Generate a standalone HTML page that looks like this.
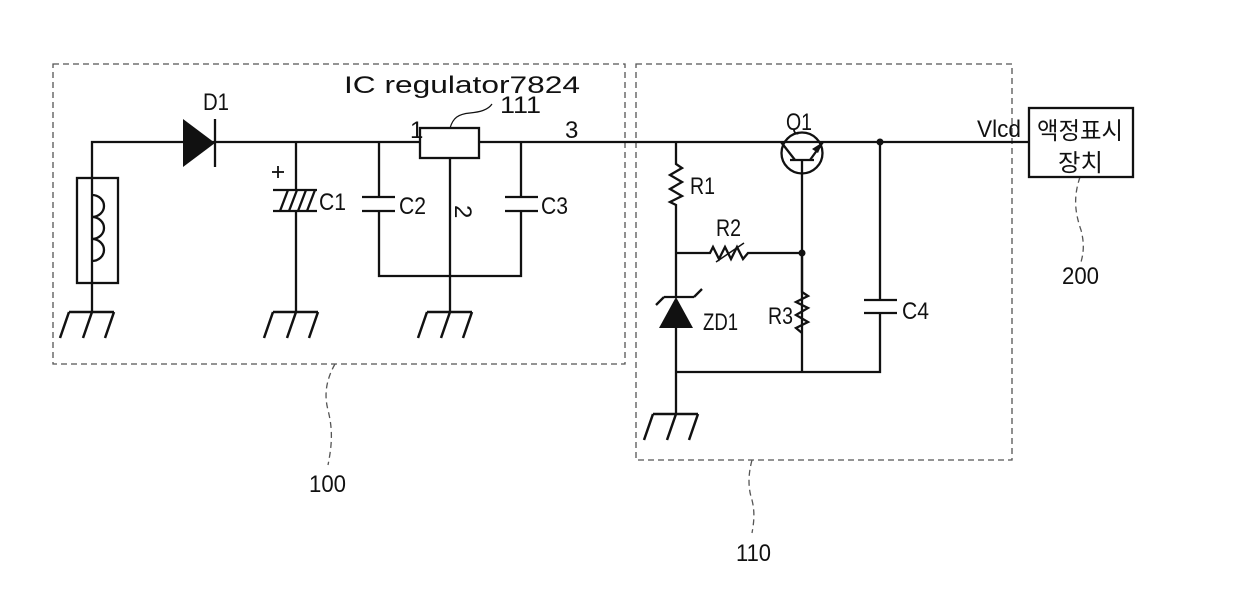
<!DOCTYPE html>
<html><head><meta charset="utf-8"><style>
html,body{margin:0;padding:0;background:#fff;}
svg{display:block;}
text{font-family:"Liberation Sans","Noto Sans CJK KR",sans-serif;fill:#111;}
</style></head><body>
<svg width="1240" height="590" viewBox="0 0 1240 590" xmlns="http://www.w3.org/2000/svg">
<defs>
<g id="gnd" stroke="#111" stroke-width="2.5" fill="none">
<line x1="-23" y1="0" x2="22" y2="0"/>
<line x1="-23" y1="0" x2="-32" y2="26"/>
<line x1="0" y1="0" x2="-9" y2="26"/>
<line x1="22" y1="0" x2="13" y2="26"/>
</g>
</defs>
<g stroke="#555" stroke-width="1.3" fill="none" stroke-dasharray="6,4">
<rect x="53" y="64" width="572" height="300"/>
<rect x="636" y="64" width="376" height="396"/>
<path d="M335 364 C326 380 324 395 328 410 C333 430 332 445 328 465"/>
<path d="M752 460 C748 475 748 488 752 500 C755 512 754 522 752 533"/>
<path d="M1080 177 C1074 195 1074 210 1081 230 C1085 245 1083 255 1081 262"/>
</g>
<g stroke="#111" stroke-width="2.3" fill="none">
<polyline points="92,283 92,142 420,142"/>
<line x1="479" y1="142" x2="1029" y2="142"/>
<rect x="77" y="178" width="41" height="105"/>
<path d="M92 195 a12 11 0 1 1 0 22 a12 11 0 1 1 0 22 a12 11 0 1 1 0 22"/>
<line x1="92" y1="283" x2="92" y2="312"/>
<line x1="215" y1="119" x2="215" y2="167"/>
<line x1="296" y1="142" x2="296" y2="190"/>
<line x1="273" y1="190" x2="317" y2="190"/>
<line x1="273" y1="211" x2="317" y2="211"/>
<line x1="296" y1="211" x2="296" y2="312"/>
<line x1="280" y1="211" x2="288" y2="190"/>
<line x1="289" y1="211" x2="297" y2="190"/>
<line x1="298" y1="211" x2="306" y2="190"/>
<line x1="307" y1="211" x2="315" y2="190"/>
<line x1="272" y1="172" x2="284" y2="172" stroke-width="1.8"/>
<line x1="278" y1="166" x2="278" y2="178" stroke-width="1.8"/>
<line x1="379" y1="142" x2="379" y2="197"/>
<line x1="362" y1="197" x2="395" y2="197"/>
<line x1="362" y1="211" x2="395" y2="211"/>
<polyline points="379,211 379,276 521,276 521,211"/>
<line x1="521" y1="142" x2="521" y2="197"/>
<line x1="505" y1="197" x2="538" y2="197"/>
<line x1="505" y1="211" x2="538" y2="211"/>
<rect x="420" y="128" width="59" height="30"/>
<line x1="450" y1="158" x2="450" y2="312"/>
<path d="M450 128 C453 118 458 114 470 113 C480 112 488 110 492 104" stroke-width="1.2"/>
<polyline points="676,142 676,164 682,168 670,175 682,182 670,189 682,196 670,202 676,205 676,297"/>
<polyline points="676,253 710,253 713,247 719,259 725,247 731,259 737,247 743,259 748,253 802,253"/>
<line x1="716" y1="262" x2="744" y2="243" stroke-width="1.5"/>
<circle cx="802" cy="153" r="20.5"/>
<line x1="790" y1="160" x2="814" y2="160"/>
<line x1="802" y1="160" x2="802" y2="372"/>
<line x1="781" y1="142" x2="795" y2="160"/>
<line x1="810" y1="160" x2="823" y2="142"/>
<polyline points="802,253 802,292 808,296 796,302 808,308 796,315 808,322 796,328 802,333"/>
<line x1="656" y1="305" x2="664" y2="297"/>
<line x1="664" y1="297" x2="694" y2="297"/>
<line x1="694" y1="297" x2="702" y2="289"/>
<line x1="676" y1="328" x2="676" y2="414"/>
<polyline points="676,372 880,372 880,313"/>
<line x1="880" y1="142" x2="880" y2="300"/>
<line x1="864" y1="300" x2="897" y2="300"/>
<line x1="864" y1="313" x2="897" y2="313"/>
<rect x="1029" y="108" width="104" height="69"/>
</g>
<polygon points="183,119 215,143 183,167" fill="#111"/>
<polygon points="676,297 693,328 659,328" fill="#111"/>
<polygon points="823,142 812,149 818,153" fill="#111"/>
<circle cx="802" cy="253" r="3.5" fill="#111"/>
<circle cx="880" cy="142" r="3.5" fill="#111"/>
<use href="#gnd" x="92" y="312"/>
<use href="#gnd" x="296" y="312"/>
<use href="#gnd" x="450" y="312"/>
<use href="#gnd" x="676" y="414"/>
<g font-size="24">
<text x="203" y="110" textLength="26" lengthAdjust="spacingAndGlyphs">D1</text>
<text x="344" y="93" textLength="236" lengthAdjust="spacingAndGlyphs">IC regulator7824</text>
<text x="500" y="113" textLength="41" lengthAdjust="spacingAndGlyphs">111</text>
<text x="410" y="138">1</text>
<text x="565" y="138">3</text>
<text x="319" y="210" textLength="27" lengthAdjust="spacingAndGlyphs">C1</text>
<text x="399" y="214" textLength="27" lengthAdjust="spacingAndGlyphs">C2</text>
<text x="541" y="214" textLength="27" lengthAdjust="spacingAndGlyphs">C3</text>
<text transform="translate(455,205) rotate(90)">2</text>
<text x="786" y="130" textLength="26" lengthAdjust="spacingAndGlyphs">Q1</text>
<text x="690" y="194" textLength="25" lengthAdjust="spacingAndGlyphs">R1</text>
<text x="716" y="236" textLength="25" lengthAdjust="spacingAndGlyphs">R2</text>
<text x="703" y="330" textLength="35" lengthAdjust="spacingAndGlyphs">ZD1</text>
<text x="768" y="324" textLength="25" lengthAdjust="spacingAndGlyphs">R3</text>
<text x="902" y="319" textLength="27" lengthAdjust="spacingAndGlyphs">C4</text>
<text x="977" y="137" textLength="44" lengthAdjust="spacingAndGlyphs">Vlcd</text>
<text x="1037" y="139" textLength="86" lengthAdjust="spacingAndGlyphs">액정표시</text>
<text x="1058" y="171" textLength="45" lengthAdjust="spacingAndGlyphs">장치</text>
<text x="309" y="492" textLength="37" lengthAdjust="spacingAndGlyphs">100</text>
<text x="736" y="561" textLength="35" lengthAdjust="spacingAndGlyphs">110</text>
<text x="1062" y="284" textLength="37" lengthAdjust="spacingAndGlyphs">200</text>
</g>
</svg>
</body></html>
